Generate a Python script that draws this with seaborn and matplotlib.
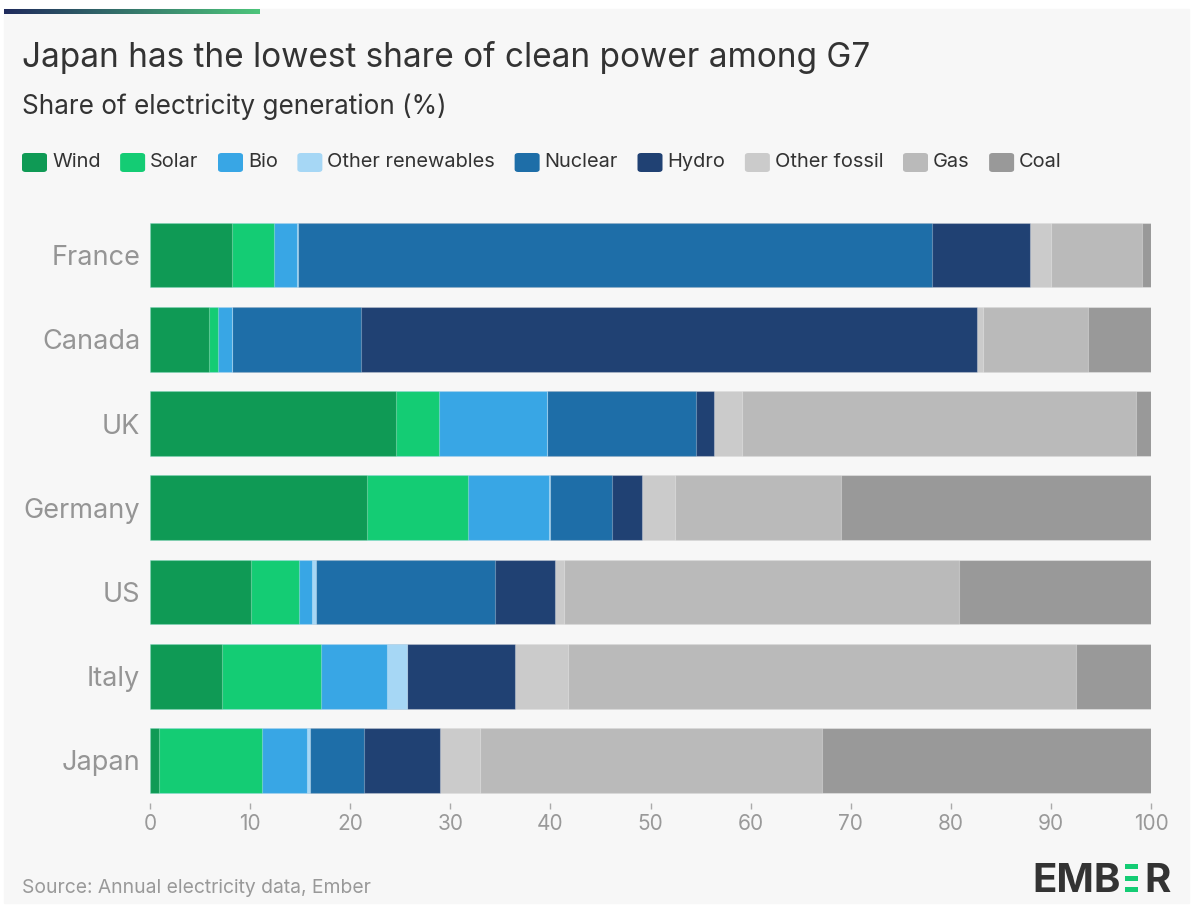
import numpy as np
import pandas as pd
import matplotlib
matplotlib.use("Agg")
import matplotlib.pyplot as plt
from matplotlib.patches import Rectangle, FancyBboxPatch
import seaborn as sns

# Share of electricity generation (%) by source
countries = ["France", "Canada", "UK", "Germany", "US", "Italy", "Japan"]
sources = ["Wind", "Solar", "Bio", "Other renewables", "Nuclear", "Hydro",
           "Other fossil", "Gas", "Coal"]
wind = [8.2, 5.9, 24.6, 21.7, 10.1, 7.2, 0.9]
solar = [4.2, 0.9, 4.3, 10.1, 4.8, 9.9, 10.3]
bio = [2.3, 1.4, 10.8, 8.1, 1.3, 6.6, 4.5]
other_renewables = [0.1, 0.0, 0.0, 0.1, 0.4, 2.0, 0.3]
nuclear = [63.3, 12.9, 14.8, 6.2, 17.9, 0.0, 5.4]
hydro = [9.8, 61.5, 1.8, 3.0, 6.0, 10.8, 7.6]
other_fossil = [2.1, 0.6, 2.8, 3.2, 0.9, 5.3, 4.0]
gas = [9.1, 10.5, 39.4, 16.6, 39.4, 50.7, 34.1]
coal = [0.9, 6.3, 1.5, 31.0, 19.2, 7.5, 32.9]
x_ticks = [0, 10, 20, 30, 40, 50, 60, 70, 80, 90, 100]

colors = ["#0f9a55", "#14cc74", "#38a6e5", "#a6d7f5", "#1e6ea8",
          "#204173", "#cbcbcb", "#bababa", "#999999"]

df = pd.DataFrame(
    {"Wind": wind, "Solar": solar, "Bio": bio, "Other renewables": other_renewables,
     "Nuclear": nuclear, "Hydro": hydro, "Other fossil": other_fossil,
     "Gas": gas, "Coal": coal},
    index=countries,
)
cum = df.cumsum(axis=1)
cum.index.name = "Country"
cum = cum.reset_index()

W, H = 1193, 907
BG = "#f7f7f7"
sns.set_theme(style="white")
plt.rcParams["font.family"] = ["Inter", "DejaVu Sans"]

fig = plt.figure(figsize=(W / 100, H / 100), dpi=100, facecolor="white")


def fx(x):
    return x / W


def fy(y):
    return 1 - y / H


# panel background and top accent strip
fig.patches.append(Rectangle((fx(4), fy(903)), fx(1185), (903 - 9) / H,
                             transform=fig.transFigure, color=BG, zorder=-10))
n = 200
grad = np.linspace(0, 1, n)
c0 = np.array([0x1f, 0x2a, 0x5c]) / 255
c1 = np.array([0x4c, 0xc4, 0x7a]) / 255
seg_w = (259 - 4) / n
for i, g in enumerate(grad):
    col = c0 * (1 - g) + c1 * g
    fig.patches.append(Rectangle((fx(4 + i * seg_w), fy(14)), fx(seg_w + 0.6), 5 / H,
                                 transform=fig.transFigure, color=col, zorder=-9, lw=0))

ax = fig.add_axes([fx(150), fy(802.6), fx(1001), (802.6 - 212.9) / H])
ax.set_facecolor(BG)

# stacked bars: draw cumulative totals from the longest down
for src, col in reversed(list(zip(sources, colors))):
    sns.barplot(data=cum, x=src, y="Country", orient="h", color=col,
                width=0.77, ax=ax, saturation=1,
                edgecolor=(1, 1, 1, 0.3), linewidth=0.8)

ax.set_xlim(0, 100)
ax.set_ylim(6.5, -0.5)
ax.set_xticks(x_ticks)
ax.set_xticklabels([str(t) for t in x_ticks])
ax.set_xlabel("")
ax.set_ylabel("")
for s in ax.spines.values():
    s.set_visible(False)
ax.tick_params(axis="x", bottom=True, length=4, width=1, color="#aaaaaa",
               labelsize=15, labelcolor="#999999", pad=4)
ax.tick_params(axis="y", left=False, length=0, labelsize=19.5,
               labelcolor="#959595", pad=7)

# titles
fig.text(fx(22), fy(67), "Japan has the lowest share of clean power among G7",
         fontsize=24, color="#333333", va="baseline", ha="left")
fig.text(fx(22), fy(114), "Share of electricity generation (%)",
         fontsize=18.8, color="#333333", va="baseline", ha="left")

# legend row
renderer = fig.canvas.get_renderer()
x = 22
for src, col in zip(sources, colors):
    fig.patches.append(FancyBboxPatch((fx(x), fy(172)), fx(25), 19 / H,
                                      boxstyle="round,pad=0,rounding_size=0.003",
                                      transform=fig.transFigure, color=col, lw=0))
    t = fig.text(fx(x + 30), fy(162), src, fontsize=14.4, color="#333333",
                 va="center", ha="left")
    bb = t.get_window_extent(renderer)
    x = bb.x1 + 19.5

# source note
fig.text(fx(22), fy(893), "Source: Annual electricity data, Ember",
         fontsize=13.9, color="#999999", va="baseline", ha="left")

# EMBER wordmark
t1 = fig.text(fx(1032), fy(891.5), "EMB", fontsize=29, fontweight="bold",
              color="#333333", va="baseline", ha="left")
bb = t1.get_window_extent(renderer)
gx = bb.x1 + 5
for ytop in (864, 875.5, 887):
    fig.patches.append(Rectangle((fx(gx), fy(ytop + 5)), fx(12.5), 5 / H,
                                 transform=fig.transFigure, color="#14cc74", lw=0))
fig.text(fx(gx + 19), fy(891.5), "R", fontsize=29, fontweight="bold",
         color="#333333", va="baseline", ha="left")

fig.savefig("out.png", dpi=100, facecolor="white")
